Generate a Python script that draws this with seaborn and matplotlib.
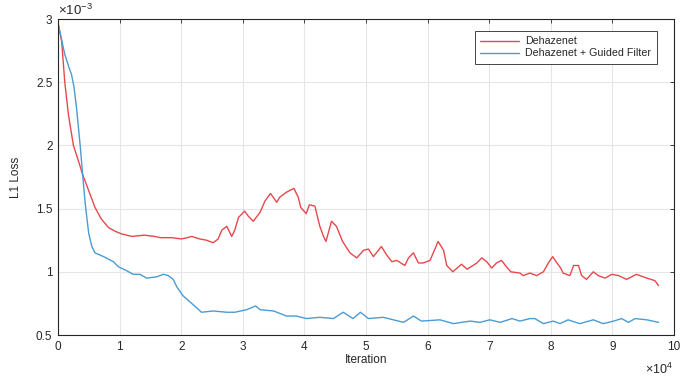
import pandas as pd
import matplotlib
matplotlib.use("Agg")
import matplotlib.pyplot as plt
import seaborn as sns

# values (x in 1e4 iterations, loss in 1e-3)
red_x = [0.0, 0.06, 0.11, 0.17, 0.25, 0.33, 0.40, 0.50, 0.60, 0.70, 0.82, 0.93, 1.03,
         1.20, 1.40, 1.57, 1.66, 1.85, 2.0, 2.10, 2.17, 2.30, 2.41, 2.52, 2.60, 2.66,
         2.74, 2.82, 2.87, 2.93, 3.03, 3.09, 3.17, 3.28, 3.36, 3.45, 3.55, 3.60, 3.71,
         3.83, 3.90, 3.94, 4.03, 4.08, 4.17, 4.25, 4.31, 4.35, 4.44, 4.52, 4.62, 4.74,
         4.85, 4.96, 5.04, 5.12, 5.25, 5.34, 5.42, 5.50, 5.63, 5.69, 5.77, 5.85, 5.93,
         6.04, 6.17, 6.26, 6.31, 6.41, 6.55, 6.64, 6.80, 6.88, 6.96, 7.04, 7.12, 7.20,
         7.28, 7.35, 7.50, 7.55, 7.66, 7.77, 7.88, 7.96, 8.03, 8.10, 8.16, 8.20, 8.31,
         8.37, 8.45, 8.50, 8.58, 8.69, 8.77, 8.88, 8.99, 9.10, 9.23, 9.39, 9.56, 9.69,
         9.75]
red_y = [2.97, 2.82, 2.50, 2.24, 2.00, 1.88, 1.77, 1.64, 1.51, 1.42, 1.35, 1.32, 1.30,
         1.28, 1.29, 1.28, 1.27, 1.27, 1.26, 1.27, 1.28, 1.26, 1.25, 1.23, 1.26, 1.33,
         1.36, 1.28, 1.33, 1.43, 1.48, 1.44, 1.40, 1.47, 1.56, 1.62, 1.55, 1.59, 1.63,
         1.66, 1.59, 1.51, 1.46, 1.53, 1.52, 1.36, 1.28, 1.24, 1.40, 1.36, 1.24, 1.15,
         1.11, 1.17, 1.18, 1.12, 1.20, 1.13, 1.08, 1.09, 1.05, 1.11, 1.15, 1.07, 1.07,
         1.09, 1.24, 1.17, 1.05, 1.00, 1.06, 1.02, 1.07, 1.11, 1.08, 1.03, 1.07, 1.09,
         1.04, 1.00, 0.99, 0.97, 0.99, 0.97, 1.00, 1.07, 1.12, 1.07, 1.03, 0.99, 0.97,
         1.05, 1.05, 0.97, 0.94, 1.00, 0.97, 0.95, 0.98, 0.97, 0.94, 0.98, 0.95, 0.93,
         0.89]

blue_x = [0.0, 0.11, 0.19, 0.22, 0.26, 0.30, 0.33, 0.36, 0.40, 0.44, 0.47, 0.50, 0.55,
          0.60, 0.74, 0.90, 0.98, 1.11, 1.22, 1.33, 1.44, 1.60, 1.71, 1.79, 1.87, 1.93,
          2.03, 2.17, 2.33, 2.52, 2.74, 2.87, 3.06, 3.21, 3.28, 3.50, 3.71, 3.87, 4.03,
          4.25, 4.47, 4.63, 4.79, 4.91, 5.04, 5.28, 5.61, 5.77, 5.90, 6.20, 6.42, 6.69,
          6.85, 7.01, 7.18, 7.37, 7.50, 7.66, 7.74, 7.88, 8.04, 8.15, 8.28, 8.47, 8.69,
          8.85, 9.02, 9.15, 9.26, 9.37, 9.56, 9.75]
blue_y = [2.97, 2.72, 2.60, 2.56, 2.46, 2.30, 2.15, 2.00, 1.77, 1.55, 1.42, 1.30, 1.20,
          1.15, 1.12, 1.08, 1.04, 1.01, 0.98, 0.98, 0.95, 0.96, 0.98, 0.97, 0.94, 0.88,
          0.81, 0.75, 0.68, 0.69, 0.68, 0.68, 0.70, 0.73, 0.70, 0.69, 0.65, 0.65, 0.63,
          0.64, 0.63, 0.68, 0.63, 0.68, 0.63, 0.64, 0.60, 0.65, 0.61, 0.62, 0.59, 0.61,
          0.60, 0.62, 0.60, 0.63, 0.61, 0.63, 0.63, 0.59, 0.61, 0.59, 0.62, 0.59, 0.62,
          0.59, 0.61, 0.63, 0.60, 0.63, 0.62, 0.60]

labels = ["Dehazenet", "Dehazenet + Guided Filter"]

df = pd.concat([
    pd.DataFrame({"Iteration": red_x, "Loss": red_y, "Model": labels[0]}),
    pd.DataFrame({"Iteration": blue_x, "Loss": blue_y, "Model": labels[1]}),
])

sns.set_style("whitegrid")
plt.rcParams["font.family"] = ["Liberation Sans", "DejaVu Sans"]
plt.rcParams["mathtext.fontset"] = "custom"
plt.rcParams["mathtext.rm"] = "Liberation Sans"
plt.rcParams["mathtext.it"] = "Liberation Sans"
palette = {labels[0]: "#E8484C", labels[1]: "#4A9CD2"}

fig = plt.figure(figsize=(6.96, 3.79), dpi=100)
ax = fig.add_axes([58 / 696, 1 - 335 / 379, 616 / 696, 316 / 379])

sns.lineplot(data=df, x="Iteration", y="Loss", hue="Model", palette=palette,
             estimator=None, sort=False, linewidth=1.0, ax=ax)

ax.set_xlim(0, 10)
ax.set_ylim(0.5, 3)
ax.set_xticks(range(0, 11))
ax.set_yticks([0.5, 1, 1.5, 2, 2.5, 3])
ax.set_yticklabels(["0.5", "1", "1.5", "2", "2.5", "3"])
ax.grid(True, color="#e6e6e6", linewidth=0.8)
for s in ax.spines.values():
    s.set_color("#262626")
    s.set_linewidth(0.8)
    s.set_visible(True)
ax.tick_params(direction="in", length=3, width=0.6, color="#262626",
               top=True, right=True, labelsize=8.5, labelcolor="#262626", pad=4)
ax.set_xlabel("Iteration", fontsize=8.5, labelpad=1)
ax.set_ylabel("L1 Loss", fontsize=8.5, labelpad=10)

ax.text(0.0, 1.003, r"$\times10^{-3}$", transform=ax.transAxes, fontsize=9.5,
        color="#262626", ha="left", va="bottom")
ax.text(0.976, -0.085, r"$\times10^{4}$", transform=ax.transAxes, fontsize=9,
        color="#262626", ha="center", va="top")

leg = ax.legend(loc="upper right", bbox_to_anchor=(0.972, 0.962), fontsize=7.7,
                frameon=True, fancybox=False, edgecolor="#262626", framealpha=1,
                borderaxespad=0, handlelength=3.6, handletextpad=0.6,
                borderpad=0.5, labelspacing=0.2)
leg.get_frame().set_linewidth(0.6)

fig.savefig("out.png", dpi=100)
